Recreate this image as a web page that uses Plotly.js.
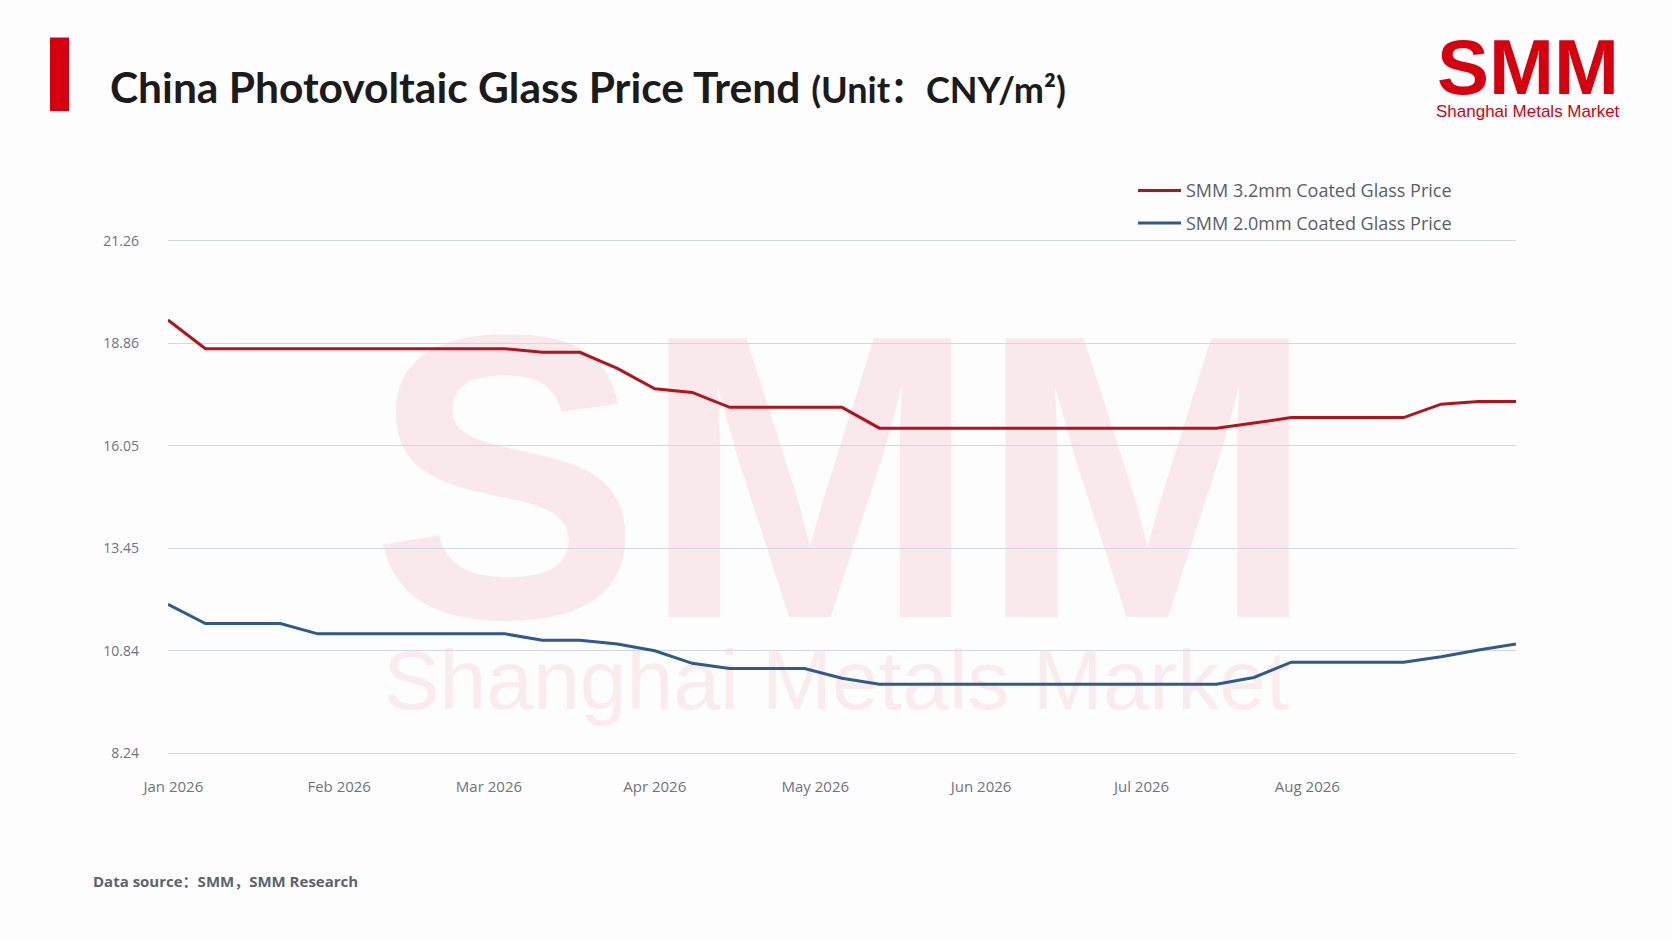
<!DOCTYPE html>
<html>
<head>
<meta charset="utf-8">
<script src="https://cdn.plot.ly/plotly-3.0.1.min.js"></script>
<style>
html,body{margin:0;padding:0;background:#fdfdfe;}
#chart{width:1672px;height:941px;}
</style>
</head>
<body>
<div id="chart"></div>
<script>
// ---- data ----
const dates = [
  "2025-12-31","2026-01-07","2026-01-14","2026-01-21","2026-01-28",
  "2026-02-04","2026-02-11","2026-02-18","2026-02-25",
  "2026-03-04","2026-03-11","2026-03-18","2026-03-25",
  "2026-04-01","2026-04-08","2026-04-15","2026-04-22","2026-04-29",
  "2026-05-06","2026-05-13","2026-05-20","2026-05-27",
  "2026-06-03","2026-06-10","2026-06-17","2026-06-24",
  "2026-07-01","2026-07-08","2026-07-15","2026-07-22","2026-07-29",
  "2026-08-05","2026-08-12","2026-08-19","2026-08-26",
  "2026-09-02","2026-09-09"
];
const price32 = [
  19.25,
  18.52,18.52,18.52,18.52,18.52,18.52,18.52,18.52,18.52,
  18.43,18.43,
  18.02,17.50,17.41,
  17.03,17.03,17.03,17.03,
  16.50,16.50,16.50,16.50,16.50,16.50,16.50,16.50,16.50,16.50,
  16.63,
  16.77,16.77,16.77,16.77,
  17.11,17.18,17.18
];
const price20 = [
  12.02,
  11.53,11.53,11.53,
  11.27,11.27,11.27,11.27,11.27,11.27,
  11.11,11.11,
  11.01,10.84,10.52,
  10.39,10.39,10.39,
  10.14,
  9.99,9.99,9.99,9.99,9.99,9.99,9.99,9.99,9.99,9.99,
  10.16,
  10.55,10.55,10.55,10.55,
  10.69,10.86,11.01
];
const seriesNames = ["SMM 3.2mm Coated Glass Price","SMM 2.0mm Coated Glass Price"];
const xTickVals = ["2026-01-01","2026-02-01","2026-03-01","2026-04-01","2026-05-01","2026-06-01","2026-07-01","2026-08-01"];
const xTickText = ["Jan 2026","Feb 2026","Mar 2026","Apr 2026","May 2026","Jun 2026","Jul 2026","Aug 2026"];
const yTickVals = [8.24, 10.844, 13.448, 16.052, 18.656, 21.26];
const yTickText = ["8.24","10.84","13.45","16.05","18.86","21.26"];
const titleMain = "China Photovoltaic Glass Price Trend";
const titleUnit = "(Unit：CNY/m²)";
const sourceText = "Data source：SMM，SMM Research";

// ---- layout helpers ----
const FW = 1672, FH = 941;
const ML = 168, MR = 156, MT = 241, MB = 188;
const PW = FW - ML - MR, PH = FH - MT - MB;
const px = x => (x - ML) / PW;
const py = y => (FH - MB - y) / PH;

const gridColor = "#d4d8e4";
const baseFam = "'Open Sans', 'Noto Sans CJK SC', 'Noto Sans', sans-serif";
const tickFont = {family: baseFam, size: 14, color: "#6e7382"};
const legendFont = {family: baseFam, size: 18, color: "#585e6e"};

const traces = [
  {x: dates, y: price32, name: seriesNames[0], type: "scatter", mode: "lines",
   line: {color: "#b3141b", width: 3}, legend: "legend"},
  {x: dates, y: price20, name: seriesNames[1], type: "scatter", mode: "lines",
   line: {color: "#2e5a8c", width: 3}, legend: "legend2"}
];

const layout = {
  width: FW, height: FH,
  paper_bgcolor: "#fdfdfe", plot_bgcolor: "rgba(0,0,0,0)",
  margin: {l: ML, r: MR, t: MT, b: MB, pad: 0, autoexpand: false},
  title: {
    text: "<b>" + titleMain + "</b> <b><span style='font-size:36px'>" + titleUnit + "</span></b>",
    font: {family: "Lato, 'Noto Sans CJK SC', 'Open Sans', sans-serif", size: 42.5, color: "#1b1b1b"},
    xref: "container", yref: "container", x: 110 / FW, xanchor: "left",
    y: 1 - 88 / FH, yanchor: "middle"
  },
  xaxis: {
    type: "date", range: [dates[0], dates[dates.length - 1]],
    tickmode: "array", tickvals: xTickVals, ticktext: xTickText,
    showgrid: false, zeroline: false,
    showline: true, linecolor: gridColor, linewidth: 1, mirror: true,
    ticks: "", ticklabelstandoff: 20,
    tickfont: {family: baseFam, size: 15, color: "#6e7382"},
    automargin: false, fixedrange: true
  },
  yaxis: {
    range: [8.24, 21.26], tickmode: "array", tickvals: yTickVals, ticktext: yTickText,
    showgrid: true, gridcolor: gridColor, gridwidth: 1, zeroline: false, showline: false,
    ticks: "", ticklabelstandoff: 28, tickfont: tickFont,
    automargin: false, fixedrange: true
  },
  showlegend: true,
  legend: {
    xref: "container", yref: "container", x: 1133 / FW, xanchor: "left",
    y: 1 - 190.7 / FH, yanchor: "middle", bgcolor: "rgba(0,0,0,0)",
    font: legendFont, borderwidth: 0, itemwidth: 43
  },
  legend2: {
    xref: "container", yref: "container", x: 1133 / FW, xanchor: "left",
    y: 1 - 223.3 / FH, yanchor: "middle", bgcolor: "rgba(0,0,0,0)",
    font: legendFont, borderwidth: 0, itemwidth: 43
  },
  shapes: [
    // red title bar
    {type: "rect", xref: "paper", yref: "paper", x0: px(50), x1: px(69), y0: py(111), y1: py(37.5),
     fillcolor: "#d7000f", line: {width: 0}, layer: "above"},
    // watermark SMM
    {type: "rect", xref: "paper", yref: "paper", x0: px(388), x1: px(1299), y0: py(574), y1: py(303),
     fillcolor: "rgba(0,0,0,0)", line: {width: 0}, layer: "below",
     label: {text: "SMM", textposition: "middle center",
       font: {family: "'Liberation Sans', Arial, sans-serif", size: 405, weight: "bold", color: "rgba(215,0,20,0.08)"}}},
    // watermark Shanghai Metals Market
    {type: "rect", xref: "paper", yref: "paper", x0: px(381), x1: px(1292), y0: py(714), y1: py(629),
     fillcolor: "rgba(0,0,0,0)", line: {width: 0}, layer: "below",
     label: {text: "Shanghai Metals Market", textposition: "middle center",
       font: {family: "'Liberation Sans', Arial, sans-serif", size: 84, color: "rgba(215,0,20,0.07)"}}}
  ],
  annotations: [
    {text: "<b>SMM</b>", xref: "paper", yref: "paper", x: px(1528), y: py(67), xanchor: "center", yanchor: "middle",
     showarrow: false, font: {family: "'Liberation Sans', Arial, sans-serif", size: 78, color: "#d7000f"}},
    {text: "Shanghai Metals Market", xref: "paper", yref: "paper", x: px(1528), y: py(111), xanchor: "center", yanchor: "middle",
     showarrow: false, font: {family: "'Liberation Sans', Arial, sans-serif", size: 17, color: "#d7000f"}},
    {text: "<b>" + sourceText + "</b>", xref: "paper", yref: "paper", x: px(91), y: py(881), xanchor: "left", yanchor: "middle",
     showarrow: false, font: {family: baseFam, size: 15, color: "#5b6274"}}
  ]
};

Plotly.newPlot("chart", traces, layout, {displayModeBar: false, staticPlot: true});
</script>
</body>
</html>
